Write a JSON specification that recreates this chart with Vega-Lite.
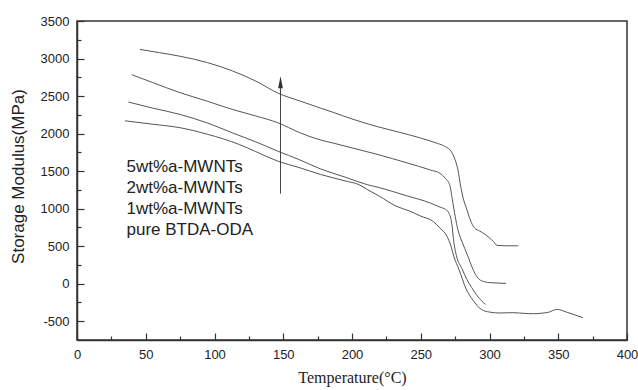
{
  "$schema": "https://vega.github.io/schema/vega-lite/v6.json",
  "width": 550,
  "height": 319,
  "autosize": {"type": "none"},
  "padding": {"left": 77, "top": 21, "right": 11, "bottom": 50},
  "background": "white",
  "config": {
    "view": {"stroke": "#333", "strokeWidth": 1.5},
    "font": "Liberation Sans",
    "axis": {"grid": false, "labelFlush": false, "labelOverlap": false, "domainColor": "#333", "tickColor": "#333", "labelColor": "#222", "titleColor": "#222"}
  },
  "datasets": {
    "curves": [
      {"series": "5wt%a-MWNTs", "T": 45.8, "M": 3121},
      {"series": "5wt%a-MWNTs", "T": 60, "M": 3078},
      {"series": "5wt%a-MWNTs", "T": 75, "M": 3030},
      {"series": "5wt%a-MWNTs", "T": 95, "M": 2945},
      {"series": "5wt%a-MWNTs", "T": 113, "M": 2835},
      {"series": "5wt%a-MWNTs", "T": 130, "M": 2700},
      {"series": "5wt%a-MWNTs", "T": 146, "M": 2540},
      {"series": "5wt%a-MWNTs", "T": 162, "M": 2435},
      {"series": "5wt%a-MWNTs", "T": 177, "M": 2340},
      {"series": "5wt%a-MWNTs", "T": 186, "M": 2285},
      {"series": "5wt%a-MWNTs", "T": 200, "M": 2195},
      {"series": "5wt%a-MWNTs", "T": 219, "M": 2090},
      {"series": "5wt%a-MWNTs", "T": 235, "M": 2015},
      {"series": "5wt%a-MWNTs", "T": 250, "M": 1940},
      {"series": "5wt%a-MWNTs", "T": 262, "M": 1870},
      {"series": "5wt%a-MWNTs", "T": 268, "M": 1825},
      {"series": "5wt%a-MWNTs", "T": 272, "M": 1765},
      {"series": "5wt%a-MWNTs", "T": 275, "M": 1650},
      {"series": "5wt%a-MWNTs", "T": 277, "M": 1520},
      {"series": "5wt%a-MWNTs", "T": 279, "M": 1300},
      {"series": "5wt%a-MWNTs", "T": 281, "M": 1130},
      {"series": "5wt%a-MWNTs", "T": 283.5, "M": 990},
      {"series": "5wt%a-MWNTs", "T": 286, "M": 850},
      {"series": "5wt%a-MWNTs", "T": 289, "M": 745},
      {"series": "5wt%a-MWNTs", "T": 293, "M": 700},
      {"series": "5wt%a-MWNTs", "T": 297, "M": 655},
      {"series": "5wt%a-MWNTs", "T": 300, "M": 610},
      {"series": "5wt%a-MWNTs", "T": 303, "M": 560},
      {"series": "5wt%a-MWNTs", "T": 305.5, "M": 510},
      {"series": "5wt%a-MWNTs", "T": 312, "M": 505},
      {"series": "5wt%a-MWNTs", "T": 321, "M": 505},
      {"series": "2wt%a-MWNTs", "T": 39.8, "M": 2785},
      {"series": "2wt%a-MWNTs", "T": 55, "M": 2680},
      {"series": "2wt%a-MWNTs", "T": 75, "M": 2545},
      {"series": "2wt%a-MWNTs", "T": 95, "M": 2430},
      {"series": "2wt%a-MWNTs", "T": 113, "M": 2322},
      {"series": "2wt%a-MWNTs", "T": 130, "M": 2235},
      {"series": "2wt%a-MWNTs", "T": 146, "M": 2145},
      {"series": "2wt%a-MWNTs", "T": 162, "M": 2012},
      {"series": "2wt%a-MWNTs", "T": 177, "M": 1915},
      {"series": "2wt%a-MWNTs", "T": 186, "M": 1875},
      {"series": "2wt%a-MWNTs", "T": 200, "M": 1810},
      {"series": "2wt%a-MWNTs", "T": 219, "M": 1720},
      {"series": "2wt%a-MWNTs", "T": 240, "M": 1610},
      {"series": "2wt%a-MWNTs", "T": 257, "M": 1515},
      {"series": "2wt%a-MWNTs", "T": 264, "M": 1470},
      {"series": "2wt%a-MWNTs", "T": 268, "M": 1400},
      {"series": "2wt%a-MWNTs", "T": 271, "M": 1320},
      {"series": "2wt%a-MWNTs", "T": 273, "M": 1120},
      {"series": "2wt%a-MWNTs", "T": 275, "M": 900},
      {"series": "2wt%a-MWNTs", "T": 277, "M": 720},
      {"series": "2wt%a-MWNTs", "T": 280, "M": 560},
      {"series": "2wt%a-MWNTs", "T": 284, "M": 380},
      {"series": "2wt%a-MWNTs", "T": 288, "M": 190},
      {"series": "2wt%a-MWNTs", "T": 291, "M": 90},
      {"series": "2wt%a-MWNTs", "T": 294, "M": 40},
      {"series": "2wt%a-MWNTs", "T": 300, "M": 15},
      {"series": "2wt%a-MWNTs", "T": 312, "M": 5},
      {"series": "1wt%a-MWNTs", "T": 37.4, "M": 2420},
      {"series": "1wt%a-MWNTs", "T": 55, "M": 2340},
      {"series": "1wt%a-MWNTs", "T": 75, "M": 2255},
      {"series": "1wt%a-MWNTs", "T": 95, "M": 2140},
      {"series": "1wt%a-MWNTs", "T": 113, "M": 2010},
      {"series": "1wt%a-MWNTs", "T": 130, "M": 1890},
      {"series": "1wt%a-MWNTs", "T": 146, "M": 1766},
      {"series": "1wt%a-MWNTs", "T": 162, "M": 1650},
      {"series": "1wt%a-MWNTs", "T": 177, "M": 1530},
      {"series": "1wt%a-MWNTs", "T": 195, "M": 1420},
      {"series": "1wt%a-MWNTs", "T": 211, "M": 1320},
      {"series": "1wt%a-MWNTs", "T": 220, "M": 1280},
      {"series": "1wt%a-MWNTs", "T": 240, "M": 1170},
      {"series": "1wt%a-MWNTs", "T": 257, "M": 1075},
      {"series": "1wt%a-MWNTs", "T": 264, "M": 1020},
      {"series": "1wt%a-MWNTs", "T": 268, "M": 990},
      {"series": "1wt%a-MWNTs", "T": 270, "M": 955},
      {"series": "1wt%a-MWNTs", "T": 272.5, "M": 810},
      {"series": "1wt%a-MWNTs", "T": 274, "M": 560},
      {"series": "1wt%a-MWNTs", "T": 276, "M": 370},
      {"series": "1wt%a-MWNTs", "T": 280, "M": 200},
      {"series": "1wt%a-MWNTs", "T": 283.5, "M": 57},
      {"series": "1wt%a-MWNTs", "T": 287, "M": -50},
      {"series": "1wt%a-MWNTs", "T": 291, "M": -160},
      {"series": "1wt%a-MWNTs", "T": 297, "M": -276},
      {"series": "pure BTDA-ODA", "T": 34.9, "M": 2170},
      {"series": "pure BTDA-ODA", "T": 55, "M": 2125},
      {"series": "pure BTDA-ODA", "T": 75, "M": 2078},
      {"series": "pure BTDA-ODA", "T": 95, "M": 1990},
      {"series": "pure BTDA-ODA", "T": 118, "M": 1855},
      {"series": "pure BTDA-ODA", "T": 130, "M": 1760},
      {"series": "pure BTDA-ODA", "T": 146, "M": 1633},
      {"series": "pure BTDA-ODA", "T": 162, "M": 1545},
      {"series": "pure BTDA-ODA", "T": 177, "M": 1456},
      {"series": "pure BTDA-ODA", "T": 195, "M": 1370},
      {"series": "pure BTDA-ODA", "T": 205, "M": 1320},
      {"series": "pure BTDA-ODA", "T": 211, "M": 1256},
      {"series": "pure BTDA-ODA", "T": 220, "M": 1165},
      {"series": "pure BTDA-ODA", "T": 232, "M": 1034},
      {"series": "pure BTDA-ODA", "T": 242, "M": 967},
      {"series": "pure BTDA-ODA", "T": 250, "M": 900},
      {"series": "pure BTDA-ODA", "T": 259, "M": 830},
      {"series": "pure BTDA-ODA", "T": 264, "M": 740},
      {"series": "pure BTDA-ODA", "T": 269, "M": 634},
      {"series": "pure BTDA-ODA", "T": 272, "M": 500},
      {"series": "pure BTDA-ODA", "T": 274, "M": 368},
      {"series": "pure BTDA-ODA", "T": 278, "M": 180},
      {"series": "pure BTDA-ODA", "T": 283, "M": -70},
      {"series": "pure BTDA-ODA", "T": 288, "M": -220},
      {"series": "pure BTDA-ODA", "T": 294, "M": -342},
      {"series": "pure BTDA-ODA", "T": 300, "M": -378},
      {"series": "pure BTDA-ODA", "T": 307, "M": -390},
      {"series": "pure BTDA-ODA", "T": 317, "M": -386},
      {"series": "pure BTDA-ODA", "T": 325, "M": -395},
      {"series": "pure BTDA-ODA", "T": 332, "M": -400},
      {"series": "pure BTDA-ODA", "T": 338, "M": -393},
      {"series": "pure BTDA-ODA", "T": 343, "M": -380},
      {"series": "pure BTDA-ODA", "T": 349, "M": -342},
      {"series": "pure BTDA-ODA", "T": 356, "M": -378},
      {"series": "pure BTDA-ODA", "T": 362, "M": -415},
      {"series": "pure BTDA-ODA", "T": 368, "M": -453}
    ],
    "labels": [
      {"label": "5wt%a-MWNTs", "T": 36, "M": 1550},
      {"label": "2wt%a-MWNTs", "T": 36, "M": 1270},
      {"label": "1wt%a-MWNTs", "T": 36, "M": 990},
      {"label": "pure BTDA-ODA", "T": 36, "M": 710}
    ],
    "arrow": [
      {"T": 148, "M1": 1200, "M2": 2690, "head": 2685}
    ]
  },
  "layer": [
    {
      "data": {"name": "curves"},
      "mark": {"type": "line", "color": "#555", "strokeWidth": 1, "interpolate": "monotone"},
      "encoding": {
        "x": {"field": "T", "type": "quantitative", "scale": {"domain": [0, 400], "nice": false, "zero": false},
          "axis": {"orient": "bottom", "values": [0, 50, 100, 150, 200, 250, 300, 350, 400], "labelExpr": "'' + datum.value", "tickSize": -7, "tickWidth": 1.2, "domainWidth": 1.5, "labelPadding": 15, "labelFont": "Liberation Sans", "labelFontSize": 13,
            "title": "Temperature(°C)", "titleFont": "Liberation Serif", "titleFontSize": 16, "titleFontWeight": "normal", "titleX": 275, "titleY": 37, "titleBaseline": "middle", "titleAlign": "center"}},
        "y": {"field": "M", "type": "quantitative", "scale": {"domain": [-750, 3500], "nice": false, "zero": false},
          "axis": {"orient": "left", "values": [-500, 0, 500, 1000, 1500, 2000, 2500, 3000, 3500], "labelExpr": "'' + datum.value", "tickSize": -7, "tickWidth": 1.2, "domainWidth": 1.5, "labelPadding": 15, "labelFont": "Liberation Sans", "labelFontSize": 13,
            "title": "Storage Modulus(MPa)", "titleFont": "Liberation Sans", "titleFontSize": 17, "titleFontWeight": "normal", "titleX": -59, "titleY": 155, "titleAngle": 270, "titleBaseline": "middle", "titleAlign": "center"}},
        "detail": {"field": "series", "type": "nominal"}
      }
    },
    {
      "data": {"name": "labels"},
      "mark": {"type": "text", "align": "left", "baseline": "middle", "font": "Liberation Sans", "fontSize": 17, "color": "#222"},
      "encoding": {
        "x": {"field": "T", "type": "quantitative",
          "axis": {"orient": "bottom", "values": [25, 75, 125, 175, 225, 275, 325, 375], "tickSize": -4, "tickWidth": 1.2, "labels": false, "domain": false, "title": null}},
        "y": {"field": "M", "type": "quantitative",
          "axis": {"orient": "left", "values": [-250, 250, 750, 1250, 1750, 2250, 2750, 3250], "tickSize": -4, "tickWidth": 1.2, "labels": false, "domain": false, "title": null}},
        "text": {"field": "label", "type": "nominal"}
      }
    },
    {
      "data": {"name": "arrow"},
      "mark": {"type": "rule", "color": "#444", "strokeWidth": 1},
      "encoding": {
        "x": {"field": "T", "type": "quantitative", "axis": null},
        "y": {"field": "M1", "type": "quantitative", "axis": null},
        "y2": {"field": "M2"}
      }
    },
    {
      "data": {"name": "arrow"},
      "mark": {"type": "point", "shape": "M0,-1L0.4,1L-0.4,1Z", "filled": true, "color": "#333", "opacity": 1, "size": 144},
      "encoding": {
        "x": {"field": "T", "type": "quantitative", "axis": null},
        "y": {"field": "head", "type": "quantitative", "axis": null}
      }
    }
  ],
  "resolve": {"axis": {"x": "independent", "y": "independent"}}
}
